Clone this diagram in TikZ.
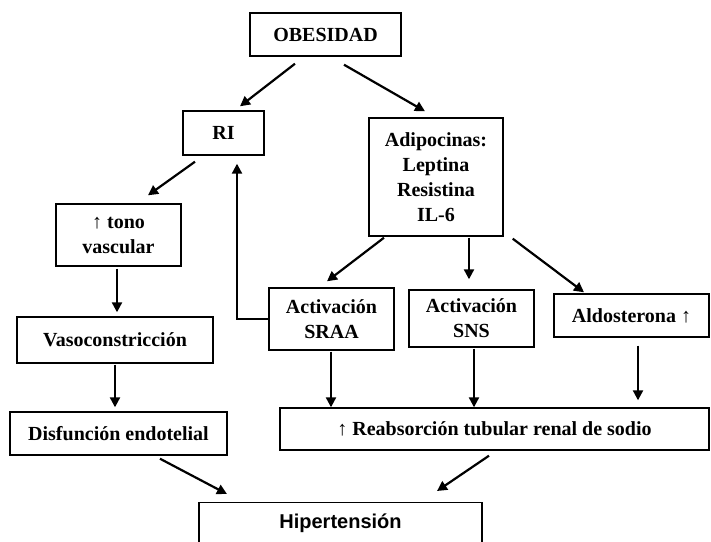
\documentclass[tikz,border=0pt]{standalone}
\usepackage{fontspec}
\setmainfont{Liberation Serif}
\newfontfamily\hipfont{Liberation Sans}
\usetikzlibrary{arrows.meta,calc}

\begin{document}
\begin{tikzpicture}[
  x=1pt, y=-1pt,
  font=\bfseries\fontsize{20}{25}\selectfont,
  box/.style={draw, line width=1.4pt, align=center, inner sep=0pt},
  arrow/.style={-{Triangle[length=10pt, width=10pt]}, line width=2.2pt}
]
\useasboundingbox (0,0) rectangle (711,541);

\node[box, minimum width=151pt, minimum height=43pt] (obes) at (325.5,34.5) {OBESIDAD};
\node[box, minimum width=81pt, minimum height=44pt] (ri) at (223.5,133) {RI};
\node[box, minimum width=134pt, minimum height=118pt] (adip) at (436,177) {Adipocinas:\\Leptina\\Resistina\\IL-6};

\node[box, minimum width=125pt, minimum height=62pt] (tono) at (118.5,235) {↑ tono\\vascular};
\node[box, minimum width=196pt, minimum height=46pt] (vaso) at (115,340) {Vasoconstricción};
\node[box, minimum width=217pt, minimum height=43pt] (disf) at (118.5,433.5) {Disfunción endotelial};

\node[box, minimum width=125pt, minimum height=62pt] (sraa) at (331.5,319) {Activación\\SRAA};
\node[box, minimum width=125pt, minimum height=57pt] (sns) at (471.5,318.5) {Activación\\SNS};
\node[box, minimum width=155pt, minimum height=43pt] (aldo) at (631.5,315.5) {Aldosterona ↑};

\node[box, minimum width=429pt, minimum height=42pt] (reab) at (494.5,429) {↑ Reabsorción tubular renal de sodio};

\node[box, anchor=north, minimum width=283pt, text height=26pt, text depth=34pt,
  font=\hipfont\bfseries\fontsize{20}{24}\selectfont] (hip) at (340.5,502) {Hipertensión};

\draw[arrow] ($(obes.south)+(-30.5,7)$) -- ($(ri.north)+(16.5,-4)$);
\draw[arrow] ($(obes.south)+(18.5,8)$) -- ($(adip.north)+(-11,-6)$);
\draw[arrow] ($(ri.south)+(-28.5,6)$) -- ($(tono.north)+(29.5,-8)$);
\draw[arrow] (sraa.west) -| ($(ri.south)+(13.5,8)$);
\draw[arrow] ($(tono.south)+(-1.5,2)$) -- ($(vaso.north)+(2,-4)$);
\draw[arrow] ($(vaso.south)+(0,1)$) -- ($(disf.north)+(-3.5,-4)$);
\draw[arrow] ($(adip.south)+(-52,1)$) -- ($(sraa.north)+(-4.5,-6)$);
\draw[arrow] ($(adip.south)+(33,1)$) -- ($(sns.north)+(-2.5,-10)$);
\draw[arrow] ($(adip.south east)+(9,2)$) -- ($(aldo.north)+(-47.5,-1)$);
\draw[arrow] ($(sraa.south)+(-0.5,1)$) -- ($(sraa.south |- reab.north)+(-0.5,0)$);
\draw[arrow] ($(sns.south)+(2.5,1)$) -- ($(sns.south |- reab.north)+(2.5,0)$);
\draw[arrow] ($(aldo.south)+(6.5,8)$) -- ($(aldo.south |- reab.north)+(6.5,-7)$);
\draw[arrow] ($(disf.south)+(41.5,3)$) -- ($(hip.north)+(-113.5,-8)$);
\draw[arrow] ($(reab.south)+(-5.5,5)$) -- ($(hip.north)+(96.5,-11)$);

\end{tikzpicture}
\end{document}
